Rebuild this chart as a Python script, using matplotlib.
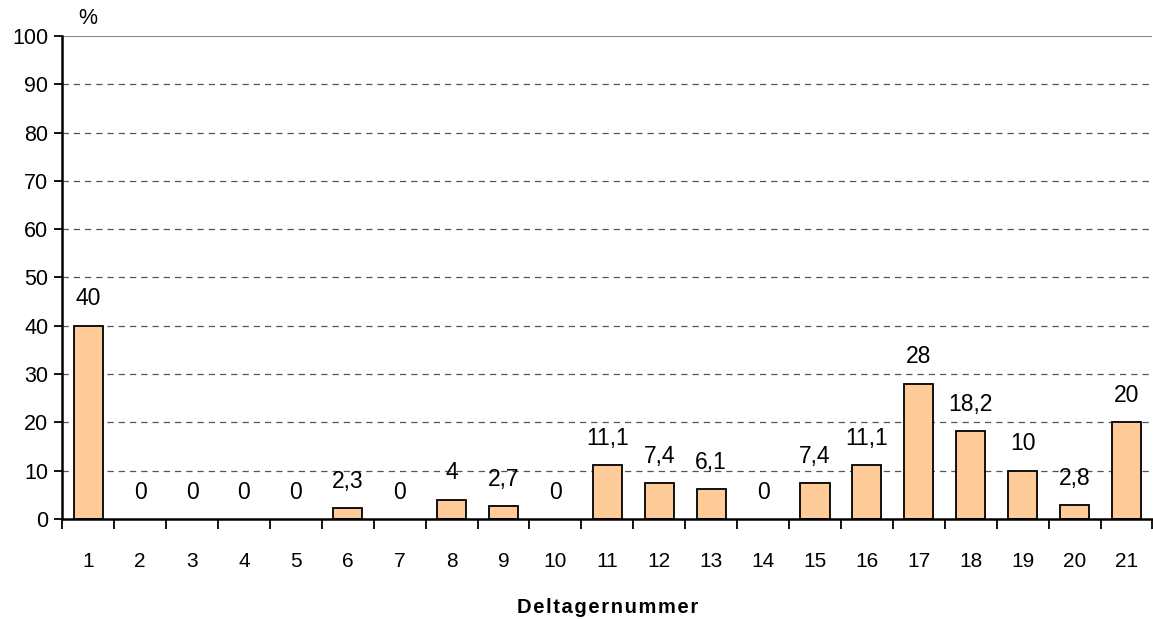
import numpy as np
import matplotlib
matplotlib.use("Agg")
import matplotlib.pyplot as plt
from matplotlib import font_manager

participants = [str(i) for i in range(1, 22)]
percent = [40, 0, 0, 0, 0, 2.3, 0, 4, 2.7, 0, 11.1, 7.4, 6.1, 0, 7.4, 11.1, 28, 18.2, 10, 2.8, 20]
labels = ["40", "0", "0", "0", "0", "2,3", "0", "4", "2,7", "0", "11,1", "7,4", "6,1", "0",
          "7,4", "11,1", "28", "18,2", "10", "2,8", "20"]

plt.rcParams['font.family'] = ['Liberation Sans', 'DejaVu Sans']
names = set(f.name for f in font_manager.fontManager.ttflist)
narrow = 'Liberation Sans Narrow' if 'Liberation Sans Narrow' in names else 'Liberation Sans'

fig = plt.figure(figsize=(11.53, 6.2), dpi=100)
ax = fig.add_axes([0.054, 0.163, 0.9455, 0.779])

x = np.arange(len(participants))
bars = ax.bar(x, percent, width=0.56, color='#FFCC99', edgecolor='black', linewidth=1.3, zorder=3)
for b, v in zip(bars, percent):
    if v == 0:
        b.set_visible(False)

for xi, v, lab in zip(x, percent, labels):
    ax.annotate(lab, (xi, v), xytext=(0, 11), textcoords='offset points',
                ha='center', va='bottom', fontsize=16.5, zorder=4)

ax.set_xlim(-0.5, 20.5)
ax.set_ylim(0, 100)
ax.set_yticks(range(0, 101, 10))
ax.tick_params(axis='y', labelsize=15.5, length=6, width=1.3, pad=4)

# gridlines: dashed, top one solid gray
for yv in range(10, 100, 10):
    ax.axhline(yv, color='#555555', linestyle=(0, (5, 4)), linewidth=0.9, zorder=1)
ax.axhline(100, color='#888888', linewidth=1.5, zorder=1)

ax.set_xticks(x)
ax.set_xticklabels(participants, fontsize=15, family=[narrow, 'DejaVu Sans'])
ax.set_xticks(np.arange(-0.5, 20.6, 1), minor=True)
ax.tick_params(axis='x', which='major', length=0, pad=24)
ax.tick_params(axis='x', which='minor', length=7, width=1.3, direction='out')

for s in ['top', 'right']:
    ax.spines[s].set_visible(False)
ax.spines['left'].set_linewidth(1.8)
ax.spines['bottom'].set_linewidth(1.8)
ax.spines['left'].set_zorder(5)
ax.spines['bottom'].set_zorder(5)

ax.set_xlabel("D\u200ae\u200al\u200at\u200aa\u200ag\u200ae\u200ar\u200an\u200au\u200am\u200am\u200ae\u200ar",
              fontsize=14.5, fontweight='bold', labelpad=19)
ax.text(0, 101.5, "%", fontsize=15.5, ha='center', va='bottom', transform=ax.transData)

fig.savefig("out.png", dpi=100)
